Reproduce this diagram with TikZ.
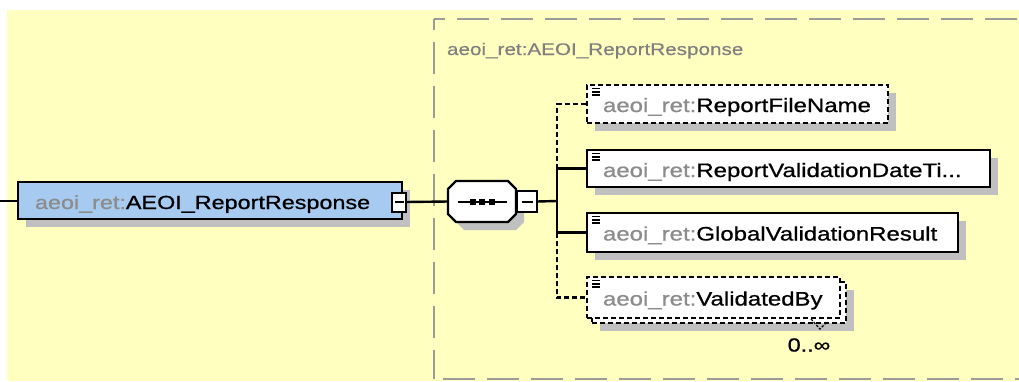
\documentclass[tikz,border=0pt]{standalone}
\usepackage{fontspec}
\setmainfont{Liberation Sans}
\newfontfamily\labfont{Liberation Sans}[FakeStretch=1.23,FakeBold=0.8]
\newfontfamily\grpfont{Liberation Sans}[FakeStretch=1.23,FakeBold=0.4]
\usetikzlibrary{shadows}
\definecolor{bgyellow}{RGB}{255,255,192}
\definecolor{mainblue}{RGB}{166,202,240}
\definecolor{shadowc}{RGB}{192,192,192}
\definecolor{grpborder}{RGB}{155,155,155}
\definecolor{pfxgray}{RGB}{140,140,140}
\definecolor{grplabel}{RGB}{128,128,128}
\newcommand\pfx[1]{\textcolor{pfxgray}{#1}}
\begin{document}
\begin{tikzpicture}[x=1pt,y=-1pt,
  every node/.style={inner sep=0pt,outer sep=0pt},
  shad/.style={drop shadow={shadow xshift=8pt,shadow yshift=-8pt,fill=shadowc,opacity=1}},
  elbox/.style={draw=black,line width=2.4pt,fill=white,minimum height=38pt,shad},
  optbox/.style={draw=black,line width=2.4pt,fill=white,minimum height=38pt,dash pattern=on 5pt off 3pt},
  minusbox/.style={draw=black,line width=2pt,fill=white},
  conn/.style={draw=black,line width=2.4pt},
  optconn/.style={conn,dash pattern=on 5pt off 3pt},
  lab/.style={font=\labfont\fontsize{19.5}{22}\selectfont,anchor=base west},
  grpline/.style={draw=grpborder,line width=2.4pt,dash pattern=on 32pt off 12pt},
  icon/.style={line width=1.4pt}
]
\useasboundingbox (0,0) rectangle (1019,381);
\fill[bgyellow] (7,10) rectangle (1019,381);

% group box
\draw[grpline,dash phase=21pt] (434,19) -- (1030,19);
\draw[grpline,dash phase=21pt] (434,19) -- (434,379);
\draw[grpline,dash phase=35pt] (434,379) -- (1030,379);
\node[lab,font=\grpfont\fontsize{16.8}{19}\selectfont,text=grplabel] (glab) at (447,55) {aeoi\_ret:AEOI\_ReportResponse};

% main element
\coordinate (start) at (0,201);
\node[elbox,fill=mainblue,minimum width=384pt,minimum height=37pt] (main) at (210,200.5) {};
\node[lab,font=\labfont\fontsize{19}{22}\selectfont] (mainlab) at (35,209) {\pfx{aeoi\_ret:}AEOI\_ReportResponse};
\node[minusbox,minimum width=14pt,minimum height=19pt] (mainm) at (399,202) {};
\draw[line width=2pt] ([shift={(-4.5,0)}]mainm.center) -- ([shift={(4.5,0)}]mainm.center);
\draw[conn] (start) -- (main.west |- start);

% sequence compositor (octagon)
\node[minimum width=68pt,minimum height=41pt] (seq) at (482,201.5) {};
\fill[shadowc] ([shift={(8,0)}]seq.north west) ++(8,8) -- ++(52,0) -- ++(8,8) -- ++(0,25) -- ++(-8,8) -- ++(-52,0) -- ++(-8,-8) -- ++(0,-25) -- cycle;
\draw[line width=2.4pt,fill=white] ([shift={(8,0)}]seq.north west) -- ([shift={(-8,0)}]seq.north east)
  -- ([shift={(0,8)}]seq.north east) -- ([shift={(0,-8)}]seq.south east)
  -- ([shift={(-8,0)}]seq.south east) -- ([shift={(8,0)}]seq.south west)
  -- ([shift={(0,-8)}]seq.south west) -- ([shift={(0,8)}]seq.north west) -- cycle;
\draw[line width=2pt] ([shift={(-24.5,0)}]seq.center) -- ([shift={(24.5,0)}]seq.center);
\foreach \dx in {-9.5,0,9.5}
  \fill[black] ([shift={(\dx-3,-3)}]seq.center) rectangle ([shift={(\dx+3,3)}]seq.center);
\node[minusbox,minimum width=20pt,minimum height=21pt] (seqm) at (527,201.5) {};
\draw[line width=2pt] ([shift={(-5.5,0)}]seqm.center) -- ([shift={(5.5,0)}]seqm.center);
\draw[conn] (mainm.east) -- (seq.west);

% children
\node[elbox,dash pattern=on 5pt off 3pt,minimum width=301pt] (rfn) at (737.5,104) {};
\node[elbox,minimum width=403pt,minimum height=37pt] (rvd) at (788.5,168.5) {};
\node[elbox,minimum width=371pt,minimum height=39pt] (gvr) at (772.5,232.5) {};
\node[optbox,minimum width=254pt,minimum height=41pt,shad] (vbback) at (719,302.5) {};
\node[optbox,minimum width=253pt,minimum height=41pt] (vb) at (713.5,297.5) {};

\node[lab] (rfnlab) at (603,112) {\pfx{aeoi\_ret:}ReportFileName};
\node[lab] (rvdlab) at (603,177) {\pfx{aeoi\_ret:}ReportValidationDateTi...};
\node[lab] (gvrlab) at (603,240.5) {\pfx{aeoi\_ret:}GlobalValidationResult};
\node[lab] (vblab) at (603,305.5) {\pfx{aeoi\_ret:}ValidatedBy};

\foreach \n in {rfn,rvd,gvr,vb}{
  \foreach \dy in {3.5,6.8,10}
    \draw[icon] ([shift={(5,\dy)}]\n.north west) -- ([shift={(13,\dy)}]\n.north west);
}

% multiplicity
\node[font=\labfont\fontsize{19}{21}\selectfont] (mult) at (809,345) {0..∞};
\draw[line width=1.2pt,dash pattern=on 2.5pt off 1.5pt] (811,319) -- (820,329) -- (827,322);

% connectors
\coordinate (bus) at (557,201);
\draw[conn] (seqm.east) -- (bus);
\draw[conn] (rvd.west) -- (rvd.west -| bus) -- (gvr.west -| bus) -- (gvr.west);
\draw[optconn] (rvd.west -| bus) -- (rfn.west -| bus) -- (rfn.west);
\draw[optconn] (gvr.west -| bus) -- (vb.west -| bus) -- (vb.west);
\end{tikzpicture}
\end{document}
